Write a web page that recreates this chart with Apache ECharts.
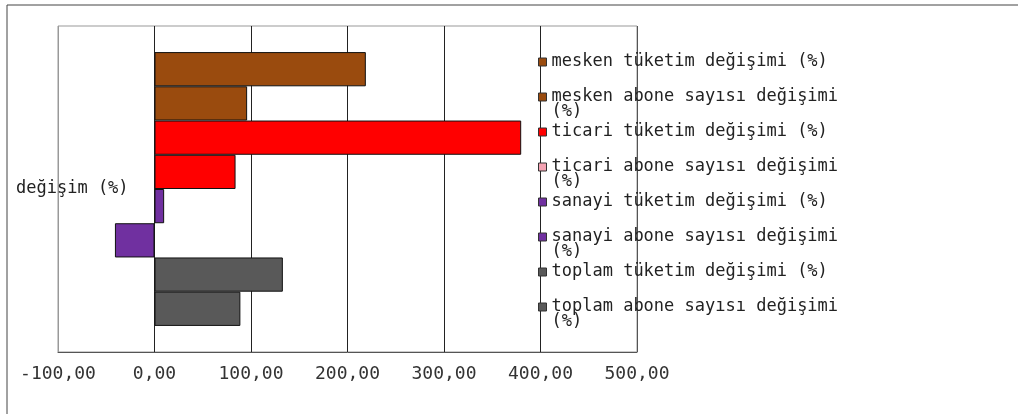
<!DOCTYPE html>
<html>
<head>
<meta charset="utf-8">
<title>değişim (%)</title>
<script src="https://cdn.jsdelivr.net/npm/echarts@6/dist/echarts.min.js"></script>
<style>
    html, body { margin: 0; padding: 0; background: #fff; }
    #chart { width: 1018px; height: 414px; }
</style>
</head>
<body>
<div id="chart"></div>
<script>
// data
var categories = ['değişim (%)'];
var seriesNames = [
    'mesken tüketim değişimi (%)',
    'mesken abone sayısı değişimi (%)',
    'ticari tüketim değişimi (%)',
    'ticari abone sayısı değişimi (%)',
    'sanayi tüketim değişimi (%)',
    'sanayi abone sayısı değişimi (%)',
    'toplam tüketim değişimi (%)',
    'toplam abone sayısı değişimi (%)'
];
var values = [219, 96, 380, 84, 10, -41, 133, 89];
var barColors = ['#9a4b0e', '#9a4b0e', '#ff0000', '#ff0000', '#7030a0', '#7030a0', '#595959', '#595959'];
var legendColors = ['#9a4b0e', '#9a4b0e', '#ff0000', '#f4a3b3', '#7030a0', '#7030a0', '#595959', '#595959'];
var xTicks = [-100, 0, 100, 200, 300, 400, 500];

var FONT = 'DejaVu Sans Mono';
var LINE = 15;

var chart = echarts.init(document.getElementById('chart'));

function fmt(v) {
    return v.toFixed(2).replace('.', ',');
}

// one legend per entry; long names wrap "(%)" and get a blank first line
// so the icon stays level with the first text line
var legends = seriesNames.map(function (name, i) {
    var wrap = name.length > 28;
    var center = 61 + 35 * i;
    return {
        orient: 'vertical',
        left: 538,
        top: wrap ? center - LINE * 1.5 : center - LINE / 2,
        padding: 0,
        icon: 'rect',
        itemWidth: 8,
        itemHeight: 8,
        selectedMode: false,
        data: [{
            name: name,
            itemStyle: { color: legendColors[i], borderColor: '#333', borderWidth: 1 }
        }],
        formatter: function (n) {
            return n.length > 28 ? '\n' + n.replace(' (%)', '\n(%)') : n;
        },
        textStyle: {
            fontFamily: FONT,
            fontSize: 17,
            lineHeight: LINE,
            color: '#222'
        }
    };
});

var series = seriesNames.map(function (name, i) {
    return {
        name: name,
        type: 'bar',
        data: [values[i]],
        barGap: 0,
        barCategoryGap: '16%',
        itemStyle: { color: barColors[i], borderColor: '#111', borderWidth: 1 }
    };
});

var option = {
    animation: false,
    backgroundColor: '#fff',
    graphic: [{
        type: 'rect',
        shape: { x: 7, y: 5, width: 1100, height: 500 },
        style: { fill: 'none', stroke: '#444', lineWidth: 1 },
        silent: true
    }],
    legend: legends,
    grid: {
        left: 58,
        right: 381,
        top: 26,
        bottom: 62,
        show: true,
        borderColor: '#999',
        borderWidth: 1
    },
    xAxis: {
        type: 'value',
        min: xTicks[0],
        max: xTicks[xTicks.length - 1],
        interval: 100,
        axisLine: { show: true, onZero: false, lineStyle: { color: '#555' } },
        axisTick: { show: false },
        splitLine: { show: true, lineStyle: { color: ['#999', '#222', '#222', '#222', '#222', '#222', '#555'] } },
        axisLabel: {
            fontFamily: FONT,
            fontSize: 18,
            color: '#333',
            margin: 13,
            formatter: fmt
        }
    },
    yAxis: {
        type: 'category',
        data: categories,
        inverse: true,
        axisLine: { show: false },
        axisTick: { show: false },
        splitLine: { show: false },
        axisLabel: {
            align: 'left',
            margin: 42,
            fontFamily: FONT,
            fontSize: 17,
            color: '#222'
        }
    },
    series: series
};

chart.setOption(option);
</script>
</body>
</html>
